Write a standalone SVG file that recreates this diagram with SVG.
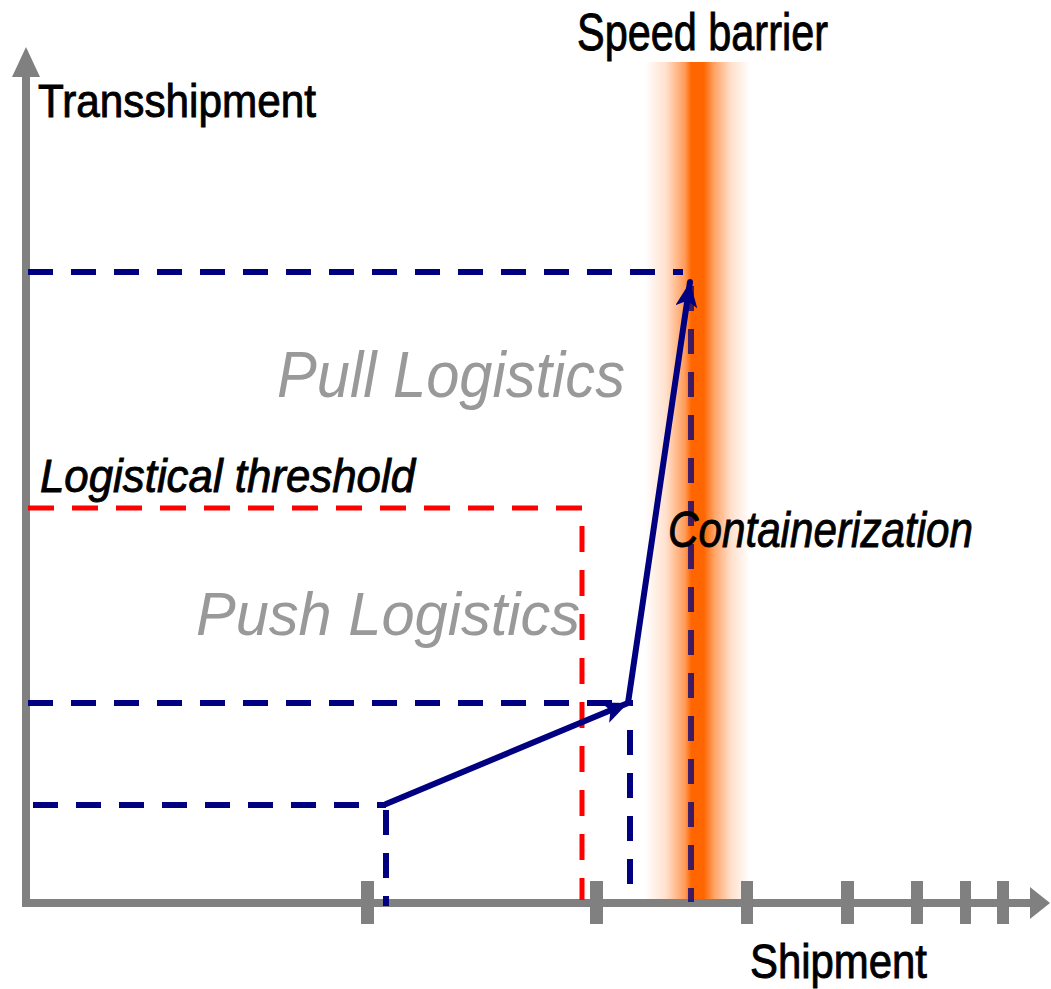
<svg xmlns="http://www.w3.org/2000/svg" width="1051" height="989" viewBox="0 0 1051 989">
<style>
.lbl{font-family:"Liberation Sans",Arial,sans-serif;fill:#000}
.heavy{stroke:#000;stroke-width:0.9}
.ital{font-style:italic}
.gray{fill:#999999}
.axis{stroke:#808080;stroke-width:8;fill:none}
.tick{fill:#808080}
.bdash{stroke:#000080;stroke-width:6;stroke-dasharray:25 18;fill:none}
.rdash{stroke:#FF0000;stroke-width:5;stroke-dasharray:26 18;fill:none}
.arrow{stroke:#000080;stroke-width:6;fill:none;stroke-linecap:round}
</style>
<defs>
<linearGradient id="barGrad" x1="0" y1="0" x2="1" y2="0">
<stop offset="0" stop-color="#FF6600" stop-opacity="0"/>
<stop offset="0.2" stop-color="#FF6600" stop-opacity="0.2"/>
<stop offset="0.38" stop-color="#FF6600" stop-opacity="0.65"/>
<stop offset="0.44" stop-color="#FF6600" stop-opacity="1"/>
<stop offset="0.56" stop-color="#FF6600" stop-opacity="1"/>
<stop offset="0.66" stop-color="#FF6600" stop-opacity="0.6"/>
<stop offset="0.82" stop-color="#FF6600" stop-opacity="0.2"/>
<stop offset="1" stop-color="#FF6600" stop-opacity="0"/>
</linearGradient>
<marker id="ah" markerUnits="userSpaceOnUse" markerWidth="28" markerHeight="24" refX="25" refY="11" orient="auto">
<path d="M0,0 L25,11 L0,22 L6,11 z" fill="#000080"/>
</marker>
</defs>
<rect width="1051" height="989" fill="#FFFFFF"/>

<g id="speed-barrier-band">
<rect x="645" y="62" width="105" height="838" fill="url(#barGrad)"/>
</g>

<g id="axes">
<line class="axis" x1="26" y1="75" x2="26" y2="903"/>
<polygon points="26,47 40,77 12,77" fill="#808080"/>
<line class="axis" x1="22" y1="903" x2="1032" y2="903"/>
<polygon points="1050,903 1030,887 1030,919" fill="#808080"/>
<rect class="tick" x="361" y="881" width="13" height="43"/>
<rect class="tick" x="590" y="881" width="13" height="43"/>
<rect class="tick" x="741" y="881" width="12" height="43"/>
<rect class="tick" x="841" y="881" width="13" height="43"/>
<rect class="tick" x="911" y="881" width="12" height="43"/>
<rect class="tick" x="960" y="881" width="11" height="43"/>
<rect class="tick" x="997" y="881" width="12" height="43"/>
</g>

<g id="connectors">
<line class="bdash" x1="28" y1="272" x2="683" y2="272"/>
<line class="bdash" x1="28" y1="703" x2="633" y2="703"/>
<line class="bdash" x1="33" y1="805" x2="386" y2="805"/>
<line class="bdash" x1="386" y1="810" x2="386" y2="906"/>
<line class="bdash" x1="630" y1="730" x2="630" y2="900"/>
<line class="bdash" x1="691" y1="286" x2="691" y2="902" stroke-opacity="0.75" stroke-dasharray="26 22"/>
<polyline class="rdash" points="28,508 582,508 582,900"/>
<line class="arrow" x1="386" y1="804" x2="628" y2="703" marker-end="url(#ah)"/>
<line class="arrow" x1="628" y1="703" x2="690" y2="282" marker-end="url(#ah)"/>
</g>

<g id="label-transshipment"><text class="lbl heavy" x="38" y="117" font-size="46" textLength="278" lengthAdjust="spacingAndGlyphs">Transshipment</text></g>
<g id="label-speed-barrier"><text class="lbl heavy" x="577" y="50" font-size="52" textLength="251" lengthAdjust="spacingAndGlyphs">Speed barrier</text></g>
<g id="label-shipment"><text class="lbl heavy" x="750" y="978" font-size="48" textLength="177" lengthAdjust="spacingAndGlyphs">Shipment</text></g>
<g id="label-threshold"><text class="lbl ital heavy" x="40" y="492" font-size="46" textLength="375" lengthAdjust="spacingAndGlyphs">Logistical threshold</text></g>
<g id="label-pull"><text class="lbl ital gray" x="277" y="397" font-size="64" textLength="348" lengthAdjust="spacingAndGlyphs">Pull Logistics</text></g>
<g id="label-push"><text class="lbl ital gray" x="196" y="635" font-size="62" textLength="384" lengthAdjust="spacingAndGlyphs">Push Logistics</text></g>
<g id="label-containerization"><text class="lbl ital heavy" x="668" y="547" font-size="50" stroke-width="1.4" textLength="305" lengthAdjust="spacingAndGlyphs">Containerization</text></g>
</svg>
